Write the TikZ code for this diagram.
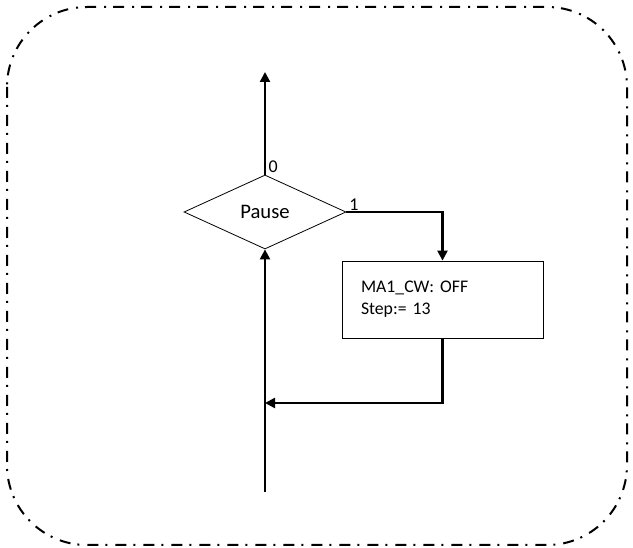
\documentclass[tikz,border=0pt]{standalone}
\usepackage{fontspec}
\setmainfont{Carlito}
\usetikzlibrary{shapes.geometric,arrows.meta}
\begin{document}
\begin{tikzpicture}[x=0.75pt,y=-0.75pt,
  flow/.style={line width=1.7pt,-{Triangle[length=7.5pt,width=7.5pt]}},
  decision/.style={diamond,draw,line width=0.6pt,inner sep=0pt,aspect=2.19,
    minimum width=121.5pt,minimum height=55.5pt,font=\fontsize{15.5pt}{18pt}\selectfont},
  action/.style={rectangle,draw,line width=0.6pt,inner xsep=14.25pt,inner ysep=0pt,
    text width=122.25pt,minimum height=57.75pt,align=left,
    font=\fontsize{13.3pt}{16.3pt}\selectfont},
  lbl/.style={inner sep=0pt,font=\fontsize{13.5pt}{15pt}\selectfont},
  frame/.style={line width=1.5pt,dash pattern=on 8.25pt off 5.25pt on 1.5pt off 6pt,
    rounded corners=60pt}]
\useasboundingbox (0,0) rectangle (633,548);
\draw[frame] (7,7) rectangle (627,545);
\node[decision] (d) at (265,212) {Pause};
\node[action] (b) at (442.5,299.5) {MA1\_CW: OFF\\Step:= 13};
\coordinate (top) at (265,72);
\coordinate (bot) at (265,492);
\coordinate (j) at (265,403);
\draw[flow] (d.north) -- (top);
\draw[flow] (bot) -- (d.south);
\draw[flow] (d.east) -| (b.north);
\draw[flow] (b.south) |- (j);
\node[lbl,anchor=south west] (l0) at ([xshift=2.5pt,yshift=1pt]d.north) {0};
\node[lbl,anchor=south west] (l1) at ([xshift=2pt,yshift=1pt]d.east) {1};
\end{tikzpicture}
\end{document}
